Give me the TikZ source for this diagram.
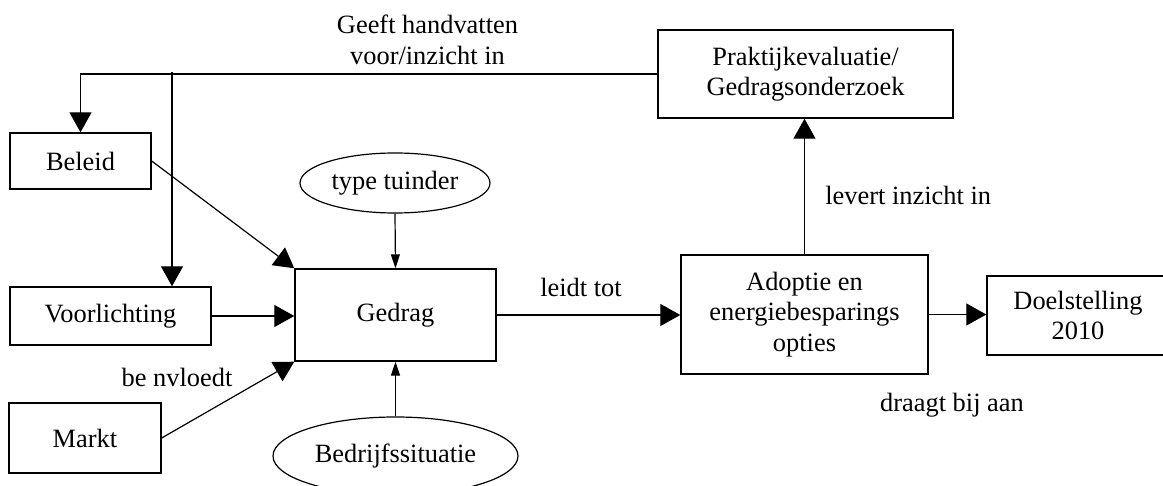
\documentclass[tikz,border=0pt]{standalone}
\usepackage{fontspec}
\setmainfont{Liberation Serif}
\usetikzlibrary{shapes, positioning, arrows.meta}
\tikzset{
>={Triangle[length=10pt,width=11pt]}, % big filled heads
every node/.style={font=\fontsize{13.2}{15.2}\selectfont},
}
\tikzstyle{block} = [rectangle, draw, line width=0.7pt, text centered, align=center, inner sep=0pt]
\tikzstyle{cloud} = [ellipse, draw, line width=0.6pt, inner sep=0pt]
\tikzstyle{line} = [draw, line width=0.6pt, ->]
\tikzstyle{thinline} = [draw, line width=0.6pt, -{Triangle[length=7pt,width=4.5pt]}]
\tikzstyle{lbl} = [align=center, inner sep=0pt]

\begin{document}
\begin{tikzpicture}[x=0.5pt, y=-0.5pt]
\useasboundingbox (0,0) rectangle (1163,486);
\node [block, minimum width=147.5pt, minimum height=44pt] (prak) at (805.5,74) {Praktijkevaluatie/\\Gedragsonderzoek};
\node [block, minimum width=70.5pt, minimum height=28pt] (beleid) at (80.5,161) {Beleid};
\node [block, minimum width=100.5pt, minimum height=29pt] (voorl) at (110.5,316) {Voorlichting};
\node [block, minimum width=76pt, minimum height=35pt] (markt) at (85,438) {Markt};
\node [block, minimum width=100.5pt, minimum height=46pt] (gedrag) at (395.5,315) {Gedrag};
\node [cloud, minimum width=95pt, minimum height=30pt] (tuinder) at (395,183) {type tuinder};
\node [cloud, minimum width=122.5pt, minimum height=39pt] (bedrijf) at (395.5,456) {Bedrijfssituatie};
\node [block, minimum width=123.5pt, minimum height=59.5pt] (adoptie) at (804.5,314.5) {Adoptie en\\energiebesparings\\opties};
\node [block, minimum width=91pt, minimum height=39.5pt] (doel) at (1078,315.5) {Doelstelling\\2010};
\coordinate (split) at (172,72);

\node [lbl] (geeft) at (427.5,40) {Geeft handvatten\\voor/inzicht in};
\node [lbl] (leidt) at (581,287) {leidt tot};
\node [lbl, anchor=west] (levert) at (825,195) {levert inzicht in};
\node [lbl] (draagt) at (952,405) {draagt bij aan};
\node [lbl] (beinvl) at (177,377) {be nvloedt};

  \path [line] (prak.west) -| (beleid.north);
  \path [line] (split) -- (split |- voorl.north);
  \path [line] (beleid.east) -- (gedrag.north west);
  \path [line] (voorl.east) -- (voorl.east -| gedrag.west);
  \path [line] (markt.east) -- (gedrag.south west);
  \path [thinline] (tuinder.south) -- (gedrag.north);
  \path [thinline] (bedrijf.north) -- (gedrag.south);
  \path [line] (gedrag.east) -- (gedrag.east -| adoptie.west);
  \path [line] (adoptie.north) -- (adoptie.north |- prak.south);
  \path [line] (adoptie.east) -- (adoptie.east -| doel.west);
\end{tikzpicture}
\end{document}
